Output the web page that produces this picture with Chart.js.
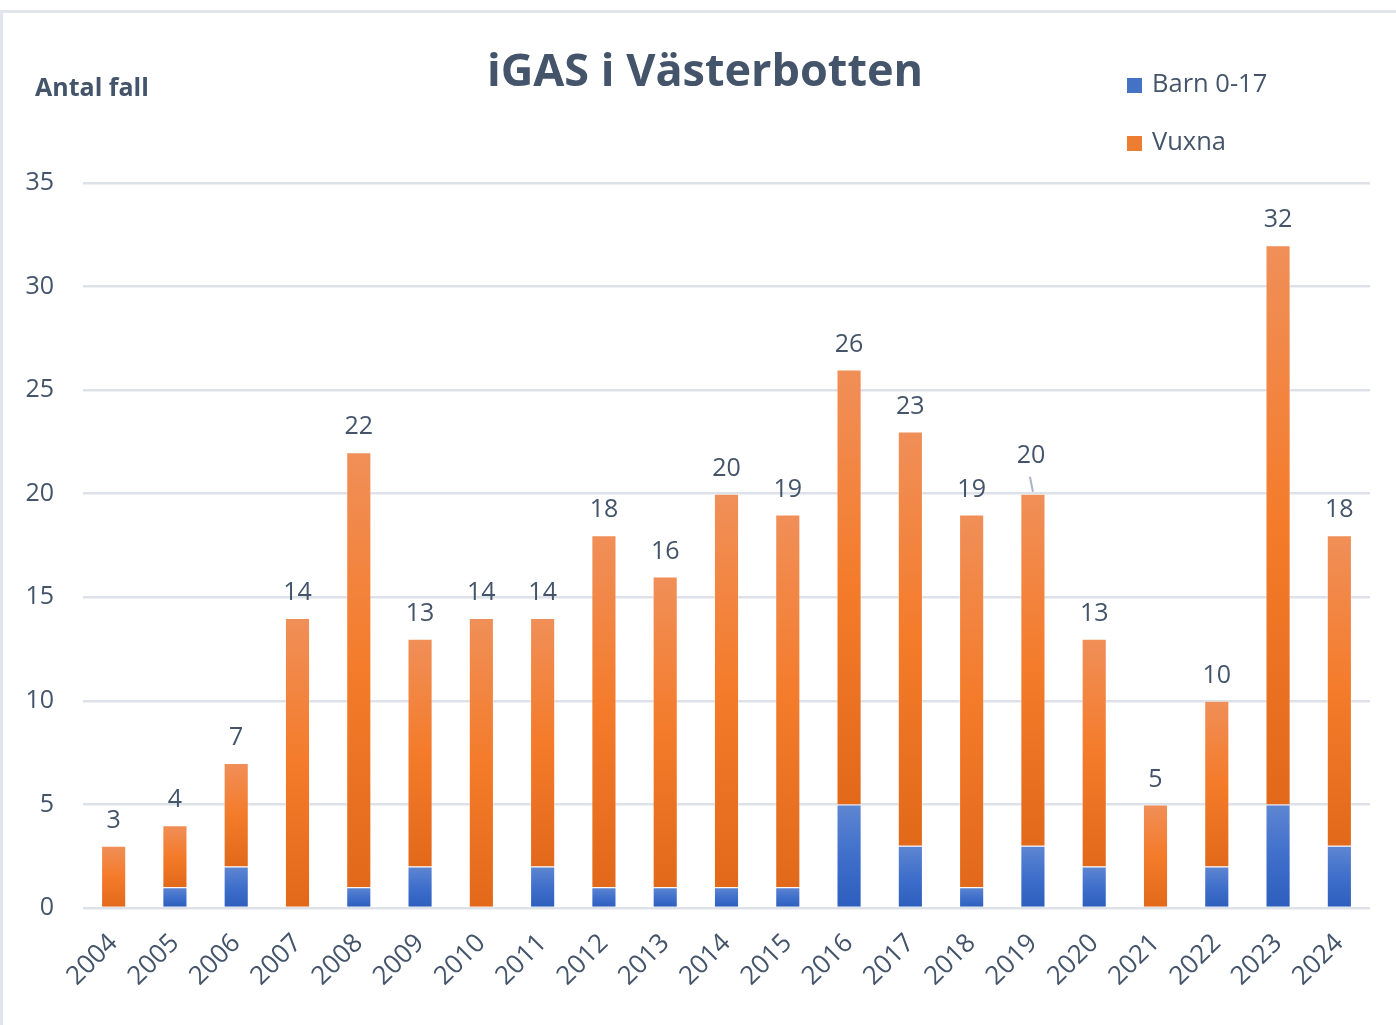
<!DOCTYPE html>
<html>
<head>
<meta charset="utf-8">
<script src="https://cdn.jsdelivr.net/npm/chart.js@4.4.1/dist/chart.umd.min.js"></script>
<style>
    html, body { margin: 0; padding: 0; background: #fff; }
    #wrap { position: relative; width: 1396px; height: 1025px; overflow: hidden; font-family: "Open Sans", sans-serif; color: #44546a; }
    #frame { position: absolute; left: 0; top: 10px; width: 1396px; height: 1015px; border-top: 3px solid #e1e5eb; border-left: 3px solid #e1e5eb; box-sizing: border-box; }
    #title { position: absolute; left: 0; width: 1410px; top: 38px; text-align: center; font-size: 45px; font-weight: 700; }
    #yTitle { position: absolute; left: 35px; top: 69px; font-size: 25px; font-weight: 700; }
    #legend { position: absolute; left: 1127px; top: 62px; font-size: 25.5px; }
    #legend div { height: 58px; line-height: 40px; white-space: nowrap; }
    #legend span.box { display: inline-block; width: 15px; height: 15px; margin-right: 10px; vertical-align: -1px; }
</style>
</head>
<body>
<div id="wrap">
    <div id="frame"></div>
    <canvas id="igasChart" width="1396" height="1025" style="position:absolute;left:0;top:0;"></canvas>
    <div id="title">iGAS i Västerbotten</div>
    <div id="yTitle">Antal fall</div>
    <div id="legend"></div>
</div>
<script>
// years on the x axis
var years = ['2004', '2005', '2006', '2007', '2008', '2009', '2010', '2011', '2012', '2013', '2014',
    '2015', '2016', '2017', '2018', '2019', '2020', '2021', '2022', '2023', '2024'];

// cases per group
var barn = [0, 1, 2, 0, 1, 2, 0, 2, 1, 1, 1, 1, 5, 3, 1, 3, 2, 0, 2, 5, 3];
var vuxna = [3, 3, 5, 14, 21, 11, 14, 12, 17, 15, 19, 18, 21, 20, 18, 17, 11, 5, 8, 27, 15];

var yTicks = [0, 5, 10, 15, 20, 25, 30, 35];

// total label that was dragged up, with a leader line
var calloutYears = ['2019'];

var textColor = '#44546a';

// vertical gradient per bar segment, light at top, dark at bottom
function segmentFill(stops) {
    return function (context) {
        var chart = context.chart;
        var yScale = chart.scales.y;
        if (context.type !== 'data' || !yScale) return stops[1];
        var i = context.dataIndex;
        var value = context.dataset.data[i];
        if (!value) return 'rgba(0,0,0,0)';
        var base = 0;
        for (var d = 0; d < context.datasetIndex; d++) base += chart.data.datasets[d].data[i];
        var yTop = yScale.getPixelForValue(base + value);
        var yBottom = yScale.getPixelForValue(base);
        if (!isFinite(yTop) || !isFinite(yBottom) || yTop === yBottom) return stops[1];
        var g = chart.ctx.createLinearGradient(0, yTop, 0, yBottom);
        g.addColorStop(0, stops[0]);
        g.addColorStop(0.5, stops[1]);
        g.addColorStop(1, stops[2]);
        return g;
    };
}

// total labels above each stacked bar
var totalLabels = {
    id: 'totalLabels',
    afterDatasetsDraw: function (chart) {
        var c = chart.ctx;
        var meta = chart.getDatasetMeta(1);
        c.save();
        c.fillStyle = textColor;
        c.font = '25px "Open Sans"';
        c.textAlign = 'center';
        c.textBaseline = 'middle';
        meta.data.forEach(function (bar, i) {
            var total = barn[i] + vuxna[i];
            if (calloutYears.indexOf(years[i]) >= 0) {
                c.fillText(String(total), bar.x - 2, bar.y - 38);
                c.strokeStyle = '#a6b4c8';
                c.lineWidth = 2;
                c.beginPath();
                c.moveTo(bar.x - 3, bar.y - 17);
                c.lineTo(bar.x, bar.y - 2);
                c.stroke();
            } else {
                c.fillText(String(total), bar.x, bar.y - 25);
            }
        });
        c.restore();
    }
};

var ctx = document.getElementById('igasChart').getContext('2d');

var chart = new Chart(ctx, {
    type: 'bar',
    data: {
        labels: years,
        datasets: [{
            label: 'Barn 0-17',
            data: barn,
            backgroundColor: segmentFill(['#5e86d2', '#3f6fcb', '#2d5ebd']),
            legendColor: '#4472c4',
            borderColor: 'rgba(255,255,255,0.35)',
            borderWidth: 1,
            categoryPercentage: 1,
            barPercentage: 0.41
        },
        {
            label: 'Vuxna',
            data: vuxna,
            backgroundColor: segmentFill(['#f08f58', '#f47b2a', '#e2691a']),
            legendColor: '#ed7d31',
            borderColor: 'rgba(255,255,255,0.35)',
            borderWidth: 1,
            categoryPercentage: 1,
            barPercentage: 0.41
        }]
    },
    options: {
        responsive: false,
        animation: false,
        layout: {
            padding: { left: 0, right: 26, top: 183, bottom: 0 }
        },
        plugins: {
            legend: { display: false },
            tooltip: { enabled: false }
        },
        scales: {
            x: {
                stacked: true,
                grid: { display: false },
                border: { display: false },
                ticks: {
                    color: textColor,
                    font: { family: 'Open Sans', size: 26 },
                    minRotation: 45,
                    maxRotation: 45,
                    autoSkip: false,
                    padding: 12
                },
                afterFit: function (scale) { scale.height = 117; }
            },
            y: {
                stacked: true,
                min: 0,
                max: 35,
                afterBuildTicks: function (scale) {
                    scale.ticks = yTicks.map(function (v) { return { value: v }; });
                },
                grid: { color: '#dde2e9', lineWidth: 2.5, drawTicks: false },
                border: { display: false },
                ticks: {
                    color: textColor,
                    font: { family: 'Open Sans', size: 25 },
                    padding: 29
                },
                afterFit: function (scale) { scale.width = 83; }
            }
        }
    },
    plugins: [totalLabels]
});

// legend in the top right corner, stacked vertically
var legendEl = document.getElementById('legend');
chart.data.datasets.forEach(function (ds) {
    var row = document.createElement('div');
    var box = document.createElement('span');
    box.className = 'box';
    box.style.background = ds.legendColor;
    row.appendChild(box);
    row.appendChild(document.createTextNode(ds.label));
    legendEl.appendChild(row);
});
</script>
</body>
</html>
